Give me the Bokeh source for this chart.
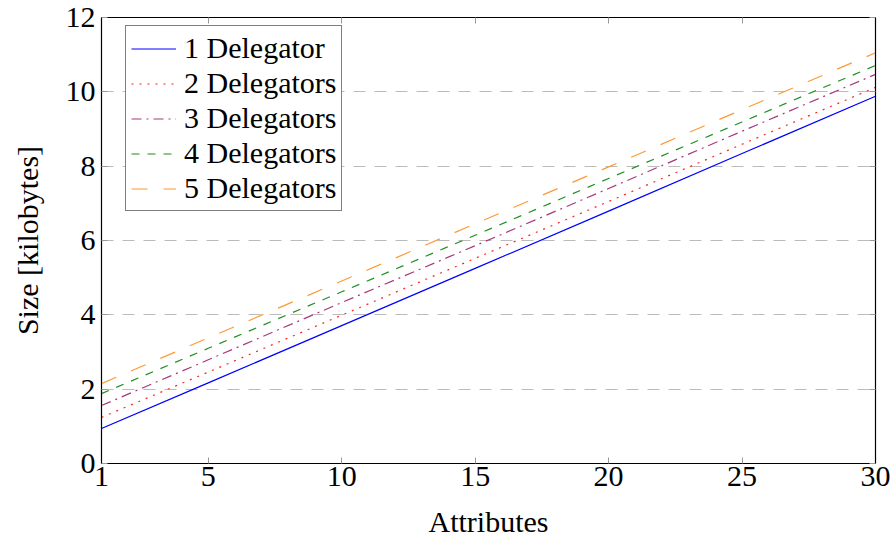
from bokeh.plotting import figure
from bokeh.models import Legend, LegendItem, LinearAxis, FixedTicker, Range1d
from bokeh.embed import file_html
from bokeh.resources import INLINE

attributes = [1, 5, 10, 15, 20, 25, 30]
d1 = [0.94, 2.17, 3.71, 5.25, 6.79, 8.34, 9.88]
d2 = [1.24, 2.46, 3.99, 5.52, 7.05, 8.59, 10.12]
d3 = [1.56, 2.79, 4.33, 5.86, 7.40, 8.94, 10.47]
d4 = [1.88, 3.10, 4.62, 6.14, 7.67, 9.19, 10.71]
d5 = [2.15, 3.38, 4.91, 6.45, 7.98, 9.52, 11.05]
labels = ["1 Delegator", "2 Delegators", "3 Delegators", "4 Delegators", "5 Delegators"]
x_ticks = [1, 5, 10, 15, 20, 25, 30]
y_ticks = [0, 2, 4, 6, 8, 10, 12]

FONT = "Liberation Serif"

p = figure(width=890, height=540, output_backend="svg", toolbar_location=None,
           x_range=Range1d(1, 30), y_range=Range1d(0, 12),
           min_border_left=101, min_border_right=15, min_border_top=17, min_border_bottom=77)
p.outline_line_color = "black"
p.outline_line_width = 1.2

series = [d1, d2, d3, d4, d5]
colors = ["#0000ff", "#ff2020", "#a8387a", "#1f8f1f", "#ff9933"]
dashes = ["solid", "2 6", "10 5 2 5", "8 8", "16 16"]
renderers = []
for s, c, d in zip(series, colors, dashes):
    r = p.line(attributes, s, line_color=c, line_width=1.2, line_dash=d)
    renderers.append(r)

# axes
for ax in (p.xaxis[0], p.yaxis[0]):
    ax.axis_line_color = "black"
    ax.major_tick_in = 6
    ax.major_tick_out = 0
    ax.minor_tick_line_color = None
    ax.major_tick_line_color = "#999999"
    ax.major_label_text_font = FONT
    ax.major_label_text_font_size = "30px"
    ax.major_label_text_color = "black"
    ax.axis_label_text_font = FONT
    ax.axis_label_text_font_size = "30px"
    ax.axis_label_text_font_style = "normal"
    ax.axis_label_text_color = "black"
p.xaxis[0].ticker = FixedTicker(ticks=x_ticks)
p.yaxis[0].ticker = FixedTicker(ticks=y_ticks)
p.xaxis[0].axis_label = "Attributes"
p.yaxis[0].axis_label = "Size [kilobytes]"
p.xaxis[0].major_label_standoff = 3
p.yaxis[0].major_label_standoff = 6
p.xaxis[0].axis_label_standoff = 16
p.yaxis[0].axis_label_standoff = 19

top = LinearAxis(ticker=FixedTicker(ticks=x_ticks),
                 major_label_overrides={t: "" for t in x_ticks},
                 major_tick_in=6, major_tick_out=0, minor_tick_line_color=None,
                 major_tick_line_color="#999999", axis_line_color="black")
right = LinearAxis(ticker=FixedTicker(ticks=y_ticks),
                   major_label_overrides={t: "" for t in y_ticks},
                   major_tick_in=6, major_tick_out=0, minor_tick_line_color=None,
                   major_tick_line_color="#999999", axis_line_color="black")
p.add_layout(top, "above")
p.add_layout(right, "right")
top.major_label_standoff = 0
right.major_label_standoff = 0

p.xgrid.grid_line_color = None
p.ygrid.grid_line_color = "#bbbbbb"
p.ygrid.grid_line_dash = "12 9"
p.ygrid.grid_line_width = 1.2

legend = Legend(items=[LegendItem(label=l, renderers=[r]) for l, r in zip(labels, renderers)],
                location=(24, 252), margin=0)
legend.label_text_font = FONT
legend.label_text_font_size = "30px"
legend.label_text_color = "black"
legend.label_height = 31
legend.glyph_height = 31
legend.glyph_width = 45
legend.spacing = 1
legend.padding = 5
legend.label_standoff = 8
legend.border_line_color = "black"
legend.border_line_width = 1.2
legend.background_fill_color = "white"
legend.background_fill_alpha = 1.0
p.add_layout(legend, "center")

open("out.html", "w").write(file_html(p, INLINE))
